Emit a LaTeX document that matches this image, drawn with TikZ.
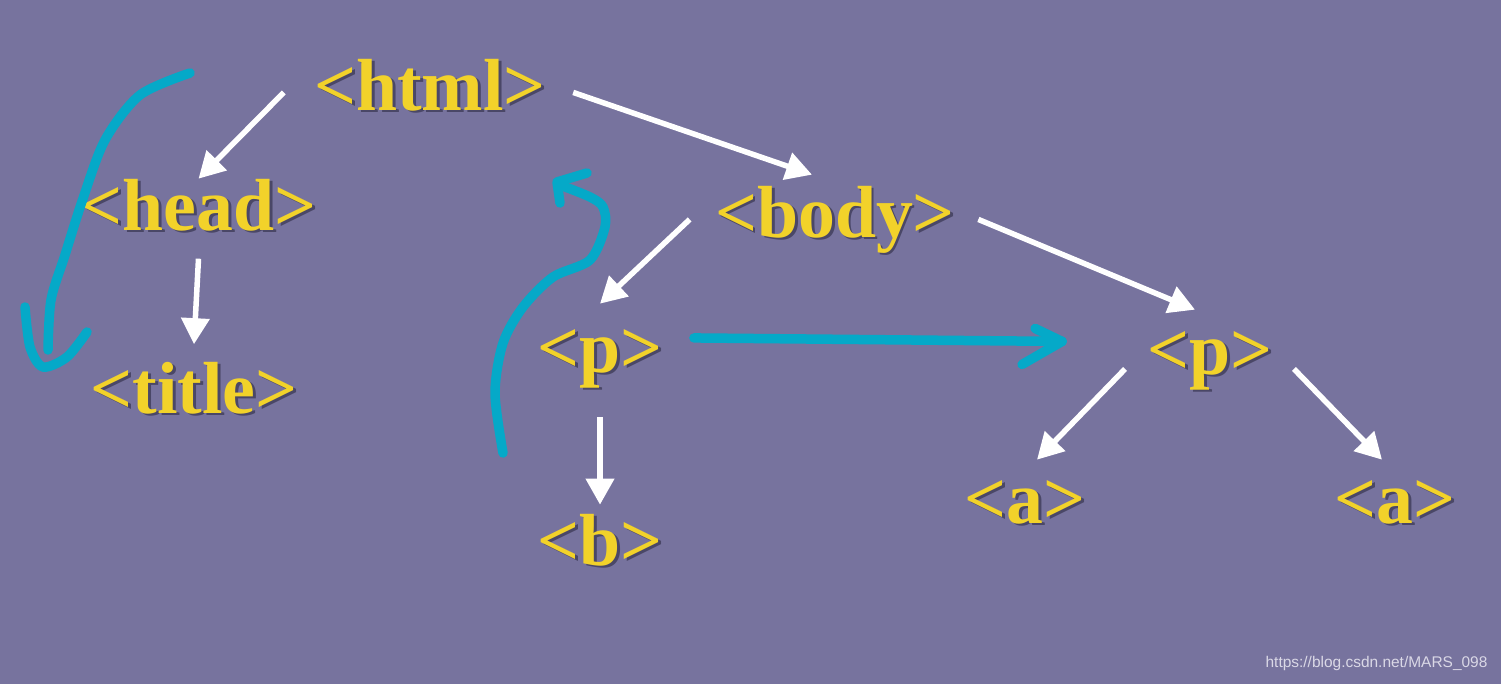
\documentclass[tikz,border=0pt]{standalone}
\usepackage{fontspec}
\setmainfont{Liberation Serif}
\newfontfamily\wmfont{Liberation Sans}
\usepackage{xcolor}
\usepackage{tikz}
\usetikzlibrary{arrows.meta,calc}

\definecolor{bgcol}{HTML}{77739E}
\definecolor{tagcol}{HTML}{F2D22A}
\definecolor{shcol}{HTML}{4A4767}
\definecolor{pencol}{HTML}{05A9C8}
\definecolor{wmcol}{HTML}{DAD8E6}

% tag text with a small drop shadow
\newcommand\shd[1]{\makebox[0pt][l]{\kern0.04em\raisebox{-0.04em}{\textcolor{shcol}{#1}}}#1}

\begin{document}
\begin{tikzpicture}[
  nd/.style={anchor=base, inner sep=0pt, text=tagcol, font=\fontsize{42}{42}\selectfont\bfseries,
             text height=29pt, text depth=9pt},
  arr/.style={-{Triangle[length=0.52cm, width=0.55cm]}, line width=0.11cm, white},
  pen/.style={line width=0.19cm, line cap=round, line join=round, pencol}
]

% ─── background (also fixes the page size) ───
\fill[bgcol] (0,0) rectangle (30.02,-13.68);

% ─── tag nodes ───
\node[nd] (html)  at (8.6,  -2.2)   {\shd{<html>}};
\node[nd] (head)  at (3.97, -4.6)   {\shd{<head>}};
\node[nd] (title) at (3.88, -8.26)  {\shd{<title>}};
\node[nd] (body)  at (16.7, -4.74)  {\shd{<body>}};
\node[nd] (p1)    at (12.0, -7.44)  {\shd{<p>}};
\node[nd] (b)     at (12.0, -11.3)  {\shd{<b>}};
\node[nd] (p2)    at (24.2, -7.48)  {\shd{<p>}};
\node[nd] (a1)    at (20.5, -10.46) {\shd{<a>}};
\node[nd] (a2)    at (27.9, -10.46) {\shd{<a>}};

% ─── tree arrows ───
\draw[arr] ([xshift=-0.6cm]html.west) -- (head.north);
\draw[arr] ([xshift=0.54cm]html.east) -- ([xshift=-0.46cm, yshift=0.22cm]body.north);
\draw[arr] ([yshift=-0.25cm]head.south) -- ([yshift=0.35cm]title.north);
\draw[arr] ([xshift=-0.5cm]body.west) -- ([yshift=0.34cm]p1.north);
\draw[arr] ([xshift=0.46cm]body.east) -- ([xshift=-0.3cm, yshift=0.26cm]p2.north);
\draw[arr] ([yshift=-0.58cm]p1.south) -- ([yshift=0.18cm]b.north);
\draw[arr] ([xshift=-0.44cm, yshift=-0.25cm]p2.west) -- ([xshift=0.24cm, yshift=0.24cm]a1.north);
\draw[arr] ([xshift=0.42cm, yshift=-0.25cm]p2.east) -- ([xshift=-0.26cm, yshift=0.24cm]a2.north);

% ─── hand-drawn cyan marks ───
% left stroke, html down past head
\draw[pen] plot[smooth] coordinates {(3.8,-1.46) (2.8,-1.9) (2.1,-2.8) (1.65,-4.0) (1.3,-5.1) (1.02,-6.0) (0.96,-7.0)};
\draw[pen] plot[smooth] coordinates {(0.5,-6.14) (0.6,-6.94) (0.86,-7.34) (1.34,-7.14) (1.74,-6.64)};

% middle stroke, going back up
\draw[pen] plot[smooth] coordinates {(10.06,-9.06) (9.9,-7.86) (10.06,-6.86) (10.46,-6.14) (11.06,-5.54)
                                     (11.8,-5.2) (12.1,-4.54) (12.06,-4.14) (11.8,-3.94) (11.2,-3.7)};
\draw[pen] (11.2,-4.06) -- (11.14,-3.64) -- (11.74,-3.46);

% sibling arrow p -> p
\draw[pen] ([xshift=0.62cm, yshift=0.33cm]p1.east) -- ([xshift=-1.7cm, yshift=0.3cm]p2.west) coordinate (tip);
\draw[pen] ($(tip)+(-0.54,0.26)$) -- (tip) -- ($(tip)+(-0.8,-0.46)$);

% ─── watermark ───
\node[font=\wmfont\fontsize{8.8}{8.8}\selectfont, text=wmcol] (wm) at (27.53,-13.26) {https://blog.csdn.net/MARS\_098};

\end{tikzpicture}
\end{document}
